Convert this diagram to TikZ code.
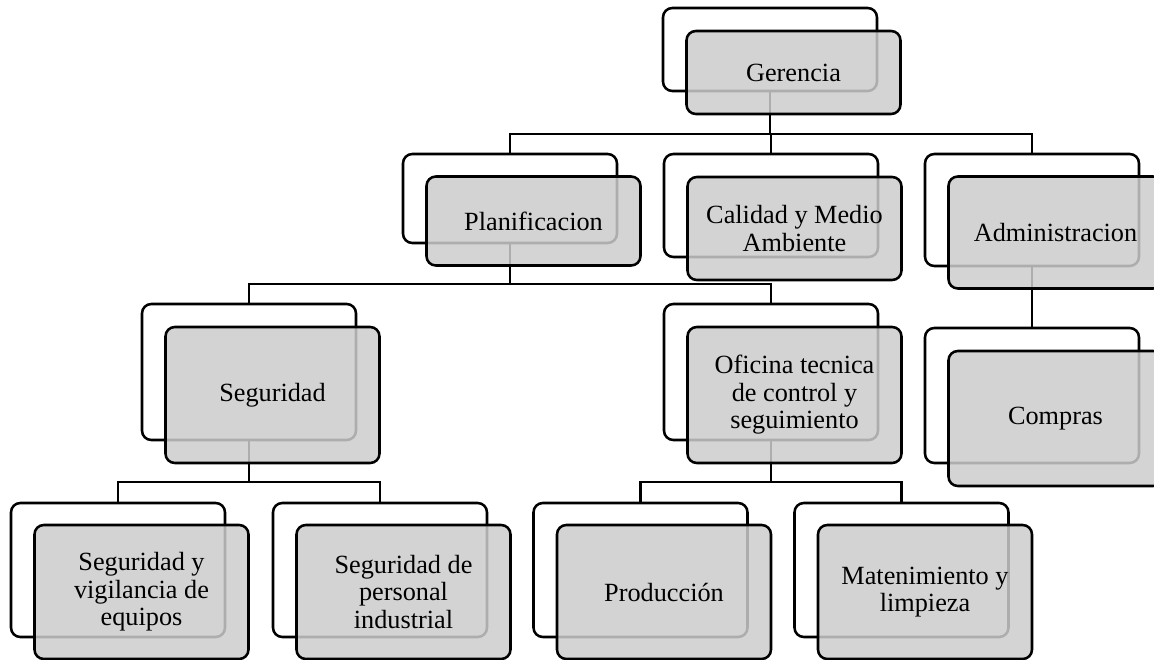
\documentclass[tikz,border=0pt]{standalone}
\usepackage{fontspec}
\setmainfont{Liberation Serif}
\begin{document}
\begin{tikzpicture}[x=0.75pt,y=-0.75pt,
  backbox/.style={draw=black, line width=1.9pt, fill=white, rounded corners=7pt,
    minimum width=160.5pt, inner sep=0pt},
  frontbox/.style={draw=black, line width=1.9pt, fill=frontgray, fill opacity=0.85,
    text opacity=1, rounded corners=7pt, minimum width=160.5pt, inner sep=2pt,
    align=center, font=\fontsize{19.7}{20.6}\selectfont},
  link/.style={draw=black, line width=1.7pt}]
\definecolor{frontgray}{gray}{0.80}
\useasboundingbox (0,0) rectangle (1154,660);
\clip (0,0) rectangle (1154,660);

% rear outlines of every unit
\node[backbox, minimum height=62.25pt]  (ger)  at (770,49.5) {};
\node[backbox, minimum height=66.75pt]  (plan) at (510,198.5) {};
\node[backbox, minimum height=77.25pt]  (cal)  at (771,205.5) {};
\node[backbox, minimum height=84pt]     (adm)  at (1032,210) {};
\node[backbox, minimum height=102pt]    (seg)  at (249,372) {};
\node[backbox, minimum height=102pt]    (ofi)  at (771,372) {};
\node[backbox, minimum height=101.25pt] (com)  at (1032,395.5) {};
\node[backbox, minimum height=100.5pt]  (sv)   at (118,570) {};
\node[backbox, minimum height=100.5pt]  (sp)   at (380,570) {};
\node[backbox, minimum height=100.5pt]  (pro)  at (640.5,570) {};
\node[backbox, minimum height=100.5pt]  (man)  at (901.5,570) {};

% bus levels
\coordinate (busA) at (0,134);
\coordinate (busB) at (0,284);
\coordinate (busC) at (0,482);

% connectors
\draw[link] (ger.south) -- (ger.south |- busA);
\draw[link] (plan.north) -- (plan.north |- busA) -- (adm.north |- busA) -- (adm.north);
\draw[link] (cal.north) -- (cal.north |- busA);
\draw[link] (plan.south) -- (plan.south |- busB);
\draw[link] (seg.north) -- (seg.north |- busB) -- (ofi.north |- busB) -- (ofi.north);
\draw[link] (adm.south) -- (com.north);
\draw[link] (seg.south) -- (seg.south |- busC);
\draw[link] (sv.north) -- (sv.north |- busC) -- (sp.north |- busC) -- (sp.north);
\draw[link] (ofi.south) -- (ofi.south |- busC);
\draw[link] (pro.north) -- (pro.north |- busC) -- (man.north |- busC) -- (man.north);

% translucent front cards with the labels
\node[frontbox, minimum height=62.25pt]  (gerF)  at ([shift={(23.5,23)}]ger.center)  {Gerencia};
\node[frontbox, minimum height=66.75pt]  (planF) at ([shift={(23.5,22.5)}]plan.center) {Planificacion};
\node[frontbox, minimum height=77.25pt]  (calF)  at ([shift={(23.5,23)}]cal.center)  {Calidad y Medio\\Ambiente};
\node[frontbox, minimum height=84pt]     (admF)  at ([shift={(23.5,22.5)}]adm.center)  {Administracion};
\node[frontbox, minimum height=102pt]    (segF)  at ([shift={(23.5,23)}]seg.center)  {Seguridad};
\node[frontbox, minimum height=102pt]    (ofiF)  at ([shift={(23.5,23)}]ofi.center)  {Oficina tecnica\\de control y\\seguimiento};
\node[frontbox, minimum height=101.25pt] (comF)  at ([shift={(23.5,23)}]com.center)  {Compras};
\node[frontbox, minimum height=100.5pt]  (svF)   at ([shift={(23.5,22)}]sv.center)   {Seguridad y\\vigilancia de\\equipos};
\node[frontbox, minimum height=100.5pt]  (spF)   at ([shift={(23.5,22)}]sp.center)   {Seguridad de\\personal\\industrial};
\node[frontbox, minimum height=100.5pt]  (proF)  at ([shift={(23.5,22)}]pro.center)  {Producción};
\node[frontbox, minimum height=100.5pt]  (manF)  at ([shift={(23.5,22)}]man.center)  {Matenimiento y\\limpieza};
\end{tikzpicture}
\end{document}
